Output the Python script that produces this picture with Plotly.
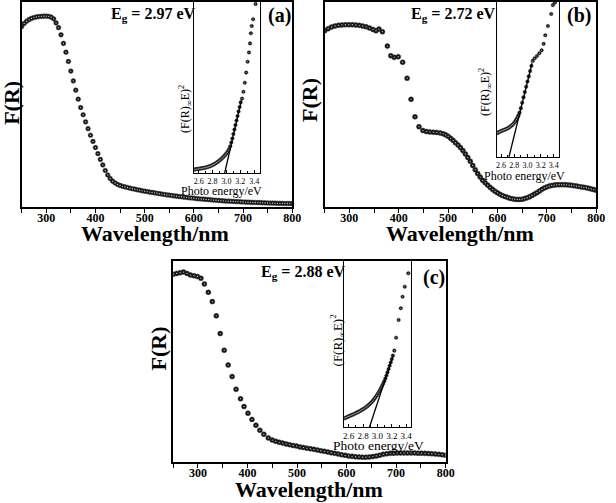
import plotly.graph_objects as go

W, H = 616, 503

# ---------------- data ----------------
# panel (a) main spectrum, F(R) in arbitrary units (0-100 of axis height)
wl_a = list(range(250, 805, 5))
fr_a = [88.0, 89.5, 90.6, 91.4, 92.0, 92.4, 92.7, 92.9, 93.0, 93.1,
        93.1, 93.0, 92.6, 91.8, 89.8, 87.5, 84.0, 79.8, 75.5, 71.0,
        66.3, 61.5, 57.0, 52.6, 48.5, 45.0, 41.5, 38.2, 35.0, 32.0,
        29.0, 26.0, 23.2, 20.5, 17.8, 15.6, 13.9, 12.6, 11.7, 11.0,
        10.5, 10.1, 9.8, 9.5, 9.2, 8.9, 8.7, 8.4, 8.2, 7.9,
        7.7, 7.5, 7.3, 7.1, 6.9, 6.7, 6.5, 6.3, 6.1, 5.9,
        5.8, 5.6, 5.4, 5.3, 5.1, 5.0, 4.8, 4.7, 4.5, 4.4,
        4.3, 4.1, 4.0, 3.9, 3.8, 3.7, 3.6, 3.5, 3.4, 3.3,
        3.2, 3.1, 3.0, 2.9, 2.85, 2.8, 2.7, 2.65, 2.6, 2.5,
        2.45, 2.4, 2.35, 2.3, 2.25, 2.2, 2.15, 2.1, 2.05, 2.0,
        1.95, 1.9, 1.9, 1.85, 1.8, 1.8, 1.75, 1.7, 1.7, 1.65,
        1.6]

# panel (b) main spectrum
wl_b = [250, 257, 264, 271, 278, 285, 292, 299, 306, 313, 320, 327, 334, 341,
        348, 354, 360, 367, 377, 384, 391, 399, 408, 417, 425, 433, 441, 449,
        456, 463, 470, 477, 484] + list(range(490, 805, 5))
fr_b = [86.0, 87.0, 87.8, 88.3, 88.6, 88.8, 88.9, 88.9, 88.9, 88.8, 88.6, 88.3, 87.9, 87.3,
        86.6, 86.0, 86.8, 85.5, 78.5, 73.8, 73.0, 73.3, 70.6, 62.8, 52.5, 44.0, 39.2, 37.3,
        36.8, 36.6, 36.5, 36.4, 36.1,
        35.7, 35.2, 34.5, 33.5, 32.5, 31.4, 30.3, 29.0, 27.5, 25.9,
        24.2, 22.3, 20.3, 18.2, 16.3, 14.6, 13.0, 11.8, 10.7, 9.6,
        8.6, 7.7, 6.9, 6.2, 5.6, 5.1, 4.7, 4.3, 4.0, 3.8,
        3.7, 3.7, 3.8, 4.1, 4.5, 5.0, 5.6, 6.3, 7.0, 7.8,
        8.6, 9.3, 9.8, 10.2, 10.5, 10.7, 10.8, 10.9, 10.9, 10.9,
        10.8, 10.7, 10.6, 10.4, 10.2, 10.0, 9.8, 9.6, 9.4, 9.1,
        8.8, 8.5, 8.2]

# panel (c) main spectrum
wl_c = [250, 257, 264, 271, 278, 285, 292, 299, 306, 313, 321, 329, 337, 345,
        353, 361, 369, 377, 386, 393, 401, 409, 417, 425, 433, 442, 450] + list(range(457, 801, 7))
fr_c = [93.4, 93.8, 94.2, 94.5, 93.8, 93.0, 92.7, 92.3, 91.4, 88.6, 84.4, 79.8, 72.7, 63.9,
        55.6, 48.3, 42.5, 36.2, 31.5, 27.6, 24.3, 21.2, 18.3, 15.8, 13.8, 12.0, 10.9,
        10.3, 9.8, 9.4, 9.0, 8.6, 8.2, 7.9, 7.5, 7.2, 6.9,
        6.6, 6.3, 6.0, 5.6, 5.3, 5.0, 4.6, 4.3, 4.0, 3.6,
        3.3, 3.0, 2.8, 2.6, 2.5, 2.4, 2.4, 2.5, 2.7, 3.0,
        3.4, 3.8, 4.1, 4.3, 4.4, 4.5, 4.5, 4.5, 4.5, 4.5,
        4.5, 4.4, 4.4, 4.3, 4.2, 4.1, 4.0, 3.8, 3.6, 3.4]

# insets: (F(R)E)^2 vs photon energy (eV), arbitrary units
e_a = [2.53, 2.545, 2.56, 2.575, 2.59, 2.605, 2.62, 2.635, 2.65, 2.665, 2.68, 2.695,
       2.71, 2.725, 2.74, 2.755, 2.77, 2.785, 2.80, 2.815, 2.83, 2.845, 2.86, 2.875,
       2.89, 2.905, 2.92, 2.935, 2.95, 2.965, 2.98, 2.995, 3.01, 3.025, 3.04, 3.055,
       3.07, 3.085, 3.10, 3.115, 3.13, 3.145, 3.16, 3.175, 3.19, 3.205,
       3.225, 3.245, 3.265, 3.285, 3.305, 3.325, 3.34, 3.352, 3.365, 3.385, 3.42]
k_a = [2.0, 2.1, 2.2, 2.3, 2.4, 2.5, 2.6, 2.7, 2.8, 2.9, 3.0, 3.1,
       3.3, 3.5, 3.7, 3.9, 4.1, 4.4, 4.7, 5.0, 5.3, 5.7, 6.1, 6.5,
       7.0, 7.5, 8.0, 8.6, 9.2, 9.8, 10.5, 11.2, 12.0, 13.0, 14.1, 15.6,
       17.8, 20.2, 22.8, 25.4, 28.0, 30.7, 33.3, 36.0, 38.6, 41.3,
       43.5, 47.5, 52.8, 58.7, 65.1, 70.5, 75.8, 81.7, 86.0, 89.9, 98.8]

e_b = [2.536, 2.55, 2.565, 2.58, 2.595, 2.61, 2.625, 2.64, 2.655, 2.67, 2.685, 2.70,
       2.715, 2.73, 2.745, 2.76, 2.775, 2.79, 2.805, 2.82, 2.835, 2.85, 2.865, 2.88,
       2.90, 2.92, 2.94, 2.96, 2.98, 3.00, 3.02, 3.04, 3.06,
       3.08, 3.11, 3.145, 3.18, 3.215, 3.245, 3.27, 3.31, 3.36, 3.385, 3.415]
k_b = [15.3, 15.6, 16.0, 16.3, 16.6, 16.9, 17.1, 17.4, 17.6, 17.9, 18.2, 18.5,
       18.9, 19.3, 19.8, 20.3, 20.9, 21.6, 22.4, 23.3, 24.4, 25.6, 27.0, 28.6,
       31.5, 35.0, 38.5, 41.9, 45.3, 48.7, 52.0, 55.5, 58.8,
       62.0, 63.7, 65.2, 66.9, 68.8, 73.0, 78.5, 84.5, 92.3, 98.0, 99.5]

e_c = [2.54, 2.555, 2.57, 2.585, 2.60, 2.615, 2.63, 2.645, 2.66, 2.675, 2.69, 2.705,
       2.72, 2.735, 2.75, 2.765, 2.78, 2.795, 2.81, 2.825, 2.84, 2.855, 2.87, 2.885,
       2.90, 2.915, 2.93, 2.945, 2.96, 2.975, 2.99, 3.005, 3.02, 3.035, 3.05, 3.065,
       3.08, 3.095, 3.11, 3.125, 3.14, 3.155, 3.17, 3.185, 3.20, 3.215,
       3.235, 3.26, 3.295, 3.325, 3.35, 3.38, 3.43]
k_c = [5.2, 5.5, 5.8, 6.1, 6.4, 6.7, 7.0, 7.2, 7.5, 7.8, 8.1, 8.5,
       8.8, 9.1, 9.5, 9.8, 10.2, 10.6, 11.0, 11.4, 11.9, 12.4, 12.9, 13.5,
       14.1, 14.8, 15.5, 16.3, 17.1, 18.0, 19.0, 20.0, 21.1, 22.3, 23.5, 24.8,
       26.1, 27.6, 29.2, 31.0, 32.9, 34.9, 36.9, 38.9, 40.9, 43.0,
       46.0, 53.8, 64.5, 71.5, 78.5, 84.5, 92.6]

# linear fits (energy, value) end points; intercept = band gap
fit_a = ([2.975, 3.215], [0.0, 42.5])
fit_b = ([2.72, 3.07], [0.0, 60.5])
fit_c = ([2.89, 3.22], [0.0, 43.4])

eg_labels = ["E<sub>g</sub> = 2.97 eV", "E<sub>g</sub> = 2.72 eV", "E<sub>g</sub> = 2.88 eV"]
panel_labels = ["(a)", "(b)", "(c)"]
main_ticks = [300, 400, 500, 600, 700, 800]
inset_ticks = [2.6, 2.8, 3.0, 3.2, 3.4]
inset_ticktext = ["2.6", "2.8", "3.0", "3.2", "3.4"]

# ---------------- layout geometry (pixels) ----------------
FONT = "Liberation Serif"
main_box = [(21, 296, 2, 207), (329, 605, 2, 207), (175, 452, 261, 462)]
inset_box = [(196, 263, 2, 173), (504, 567, 2, 157), (349, 417, 261, 427)]
inset_range = [(2.53, 3.48), (2.536, 3.475), (2.54, 3.47)]


def dom_x(a, b):
    return [a / W, b / W]


def dom_y(top, bot):
    return [1 - bot / H, 1 - top / H]


fig = go.Figure()
mains = [(wl_a, fr_a, 4.7), (wl_b, fr_b, 5.0), (wl_c, fr_c, 5.0)]
insets = [(e_a, k_a, fit_a), (e_b, k_b, fit_b), (e_c, k_c, fit_c)]

for i in range(3):
    mx = "x" + ("" if i == 0 else str(i + 1))
    my = "y" + ("" if i == 0 else str(i + 1))
    ix = "x" + str(i + 4)
    iy = "y" + str(i + 4)
    wl, fr, ms = mains[i]
    fig.add_trace(go.Scatter(x=wl, y=fr, mode="markers", xaxis=mx, yaxis=my,
                             marker=dict(size=ms, color="#111111",
                                         line=dict(width=0.5, color="#3a3a3a")),
                             showlegend=False, hoverinfo="skip"))
    fig.add_trace(go.Scatter(x=wl, y=fr, mode="markers", xaxis=mx, yaxis=my,
                             marker=dict(size=1.3, color="#cfcfcf"),
                             showlegend=False, hoverinfo="skip"))
    e, k, fit = insets[i]
    fig.add_trace(go.Scatter(x=e, y=k, mode="markers", xaxis=ix, yaxis=iy,
                             marker=dict(size=3.6, color="#111111",
                                         line=dict(width=0.4, color="#3a3a3a")),
                             showlegend=False, hoverinfo="skip"))
    fig.add_trace(go.Scatter(x=e, y=k, mode="markers", xaxis=ix, yaxis=iy,
                             marker=dict(size=1.0, color="#cfcfcf"),
                             showlegend=False, hoverinfo="skip"))
    fig.add_trace(go.Scatter(x=fit[0], y=fit[1], mode="lines", xaxis=ix, yaxis=iy,
                             line=dict(color="black", width=1.3),
                             showlegend=False, hoverinfo="skip"))

layout = dict(width=W, height=H, margin=dict(l=0, r=0, t=0, b=0),
              paper_bgcolor="white", plot_bgcolor="rgba(0,0,0,0)",
              font=dict(family=FONT, color="black"))

for i in range(3):
    l, r, t, b = main_box[i]
    xs = "xaxis" + ("" if i == 0 else str(i + 1))
    ys = "yaxis" + ("" if i == 0 else str(i + 1))
    layout[xs] = dict(domain=dom_x(l, r), range=[250, 800], anchor="y" + ("" if i == 0 else str(i + 1)),
                      tickvals=main_ticks, ticks="outside", ticklen=4, tickwidth=1.2,
                      tickcolor="black", ticklabelstandoff=-5,
                      minor=dict(dtick=50, tick0=250, ticks="outside", ticklen=4, tickwidth=1.2,
                                 tickcolor="black"),
                      showline=True, linecolor="black", linewidth=1.5, mirror=True,
                      showgrid=False, zeroline=False,
                      tickfont=dict(family=FONT, size=12, weight="bold"))
    layout[ys] = dict(domain=dom_y(t, b), range=[0, 100], anchor="x" + ("" if i == 0 else str(i + 1)),
                      showticklabels=False, ticks="", showline=True, linecolor="black",
                      linewidth=1.5, mirror=True, showgrid=False, zeroline=False)
    l, r, t, b = inset_box[i]
    tsize = 9 if i == 2 else 8
    layout["xaxis" + str(i + 4)] = dict(domain=dom_x(l, r), range=list(inset_range[i]),
                                         anchor="y" + str(i + 4),
                                         tickvals=inset_ticks, ticktext=inset_ticktext,
                                         ticks="inside", ticklen=3,
                                         tickwidth=0.8, tickcolor="black",
                                         minor=dict(dtick=0.1, tick0=2.5, ticks="inside", ticklen=2,
                                                    tickwidth=0.8, tickcolor="black"),
                                         showline=True, linecolor="black", linewidth=1, mirror=True,
                                         showgrid=False, zeroline=False,
                                         tickfont=dict(family=FONT, size=tsize))
    layout["yaxis" + str(i + 4)] = dict(domain=dom_y(t, b), range=[0, 100], anchor="x" + str(i + 4),
                                         showticklabels=False, ticks="", showline=True,
                                         linecolor="black", linewidth=1, mirror=True,
                                         showgrid=False, zeroline=False)

fig.update_layout(**layout)

ann = []


def add_text(text, x, y, size, bold=False, angle=0, xanchor="center", yanchor="middle"):
    ann.append(dict(text=text, x=x / W, y=1 - y / H, xref="paper", yref="paper",
                    showarrow=False, textangle=angle, xanchor=xanchor, yanchor=yanchor,
                    font=dict(family=FONT, size=size, color="black",
                              weight="bold" if bold else "normal")))


# main axis titles
xt = [(157, 234), (467, 234), (313, 489)]
yt = [(10, 103), (314, 100), (160, 348)]
for i in range(3):
    add_text("Wavelength/nm", xt[i][0], xt[i][1], 22, bold=True)
    add_text("F(R)", yt[i][0], yt[i][1], 22, bold=True, angle=-90)

# band-gap labels and panel letters
eg_pos = [(110, 14), (415, 14), (262, 272)]
for i in range(3):
    add_text(eg_labels[i], eg_pos[i][0], eg_pos[i][1], 16, bold=True, xanchor="left")
pl_pos = [(283, 16), (588, 16), (440, 277)]
for i in range(3):
    add_text(panel_labels[i], pl_pos[i][0], pl_pos[i][1], 20, bold=True)

# inset titles
pe_pos = [(224, 191, 12), (532, 176, 12), (384, 445, 13.5)]
for (x, y, s) in pe_pos:
    add_text("Photo energy/eV", x, y, s)
iy_pos = [(187, 109, 12), (492, 92, 12), (342, 340, 13)]
for (x, y, s) in iy_pos:
    add_text("(F(R)<sub>∞</sub>E)<sup>2</sup>", x, y, s, angle=-90)

fig.update_layout(annotations=ann)
fig.write_html("out.html", config={"displayModeBar": False},
               post_script="document.body.style.margin='0px';")
